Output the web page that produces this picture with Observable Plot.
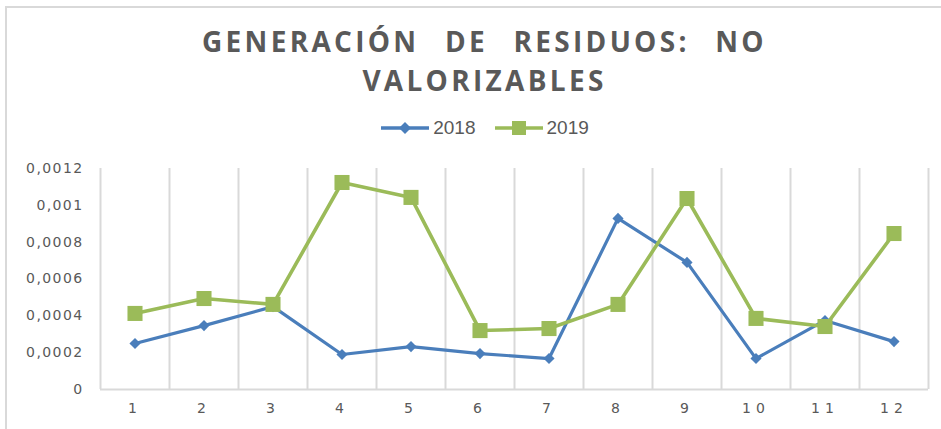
<!DOCTYPE html>
<html>
<head>
<meta charset="utf-8">
<script src="https://cdn.jsdelivr.net/npm/d3@7"></script>
<script src="https://cdn.jsdelivr.net/npm/@observablehq/plot@0.6"></script>
<style>
  html, body { margin: 0; padding: 0; background: #fff; }
  body { width: 941px; height: 429px; position: relative; overflow: hidden; font-family: "DejaVu Sans", sans-serif; }
  #frame { position: absolute; left: 5px; top: 6px; width: 960px; height: 460px; border: 2px solid #d9d9d9; box-sizing: border-box; }
  #title { position: absolute; left: 14px; top: 22px; width: 941px; text-align: center; font-family: "Open Sans", sans-serif; font-weight: bold; font-size: 28px; line-height: 39px; letter-spacing: 3.3px; color: #595959; word-spacing: 15px; }
  #legend { position: absolute; left: 14px; top: 117px; width: 941px; display: flex; justify-content: center; align-items: center; font-family: "Liberation Sans", sans-serif; font-size: 19px; color: #595959; }
  #legend .item { display: flex; align-items: center; margin: 0 9px; }
  #legend svg { margin-right: 3px; }
  #chart { position: absolute; left: 0; top: 150px; }
  #chart svg text { fill: #595959; }
</style>
</head>
<body>
<div id="frame"></div>
<div id="title">GENERACIÓN DE RESIDUOS: NO<br>VALORIZABLES</div>
<div id="legend"></div>
<div id="chart"></div>
<script>
const months = [1, 2, 3, 4, 5, 6, 7, 8, 9, 10, 11, 12];
const values2018 = [0.00025, 0.000347, 0.00045, 0.00019, 0.000233, 0.000195, 0.000168, 0.000929, 0.00069, 0.000168, 0.000375, 0.00026];
const values2019 = [0.000413, 0.000494, 0.000462, 0.001124, 0.001043, 0.00032, 0.000331, 0.000462, 0.001037, 0.000386, 0.000342, 0.000847];
const yTicks = [0, 0.0002, 0.0004, 0.0006, 0.0008, 0.001, 0.0012];
const seriesNames = ["2018", "2019"];
const seriesColors = ["#4a7ebb", "#9bbb59"];

const data = [
  ...months.map((m, i) => ({month: m, value: values2018[i], series: "2018"})),
  ...months.map((m, i) => ({month: m, value: values2019[i], series: "2019"}))
];
const boundaries = [...months.map(m => m - 0.5), months[months.length - 1] + 0.5];

const fmt = d => d === 0 ? "0" : String(+d.toFixed(4)).replace(".", ",");

const plot = Plot.plot({
  width: 941,
  height: 279,
  marginLeft: 100,
  marginRight: 13,
  marginTop: 18,
  marginBottom: 40,
  style: {fontFamily: "DejaVu Sans, sans-serif", fontSize: "14px", color: "#595959", background: "transparent"},
  x: {domain: [0.5, 12.5], label: null},
  y: {domain: [0, 0.0012], label: null},
  marks: [
    Plot.ruleX(boundaries, {stroke: "#d9d9d9", strokeWidth: 2, strokeOpacity: 1}),
    Plot.ruleY([0], {stroke: "#d9d9d9", strokeWidth: 2}),
    Plot.axisX({ticks: months, tickSize: 0, tickPadding: 14, tickFormat: d => String(d), fontSize: 14}),
    Plot.axisY({ticks: yTicks, tickSize: 0, tickPadding: 17, tickFormat: fmt, fontSize: 14}),
    Plot.line(data.filter(d => d.series === "2018"), {x: "month", y: "value", stroke: seriesColors[0], strokeWidth: 3.2}),
    Plot.line(data.filter(d => d.series === "2019"), {x: "month", y: "value", stroke: seriesColors[1], strokeWidth: 3.6}),
    Plot.dot(data.filter(d => d.series === "2018"), {x: "month", y: "value", symbol: "diamond2", r: 5, fill: seriesColors[0], stroke: "none"}),
    Plot.dot(data.filter(d => d.series === "2019"), {x: "month", y: "value", symbol: "square", r: 8.5, fill: seriesColors[1], stroke: "none"})
  ]
});
plot.querySelectorAll('g[aria-label="x-axis tick label"] text').forEach(t => t.setAttribute("letter-spacing", "5"));
plot.querySelectorAll('g[aria-label="y-axis tick label"] text').forEach(t => t.setAttribute("letter-spacing", "1.4"));
document.getElementById("chart").appendChild(plot);

// legend
const legend = document.getElementById("legend");
seriesNames.forEach((name, i) => {
  const item = document.createElement("div");
  item.className = "item";
  const marker = i === 0
    ? '<path d="M25,5 L31,11 L25,17 L19,11 Z" fill="' + seriesColors[i] + '"/>'
    : '<rect x="18" y="4" width="14" height="14" fill="' + seriesColors[i] + '"/>';
  item.innerHTML = '<svg width="50" height="22"><line x1="1" x2="49" y1="11" y2="11" stroke="' + seriesColors[i] + '" stroke-width="3.5"/>' + marker + '</svg><span>' + name + '</span>';
  legend.appendChild(item);
});
</script>
</body>
</html>
